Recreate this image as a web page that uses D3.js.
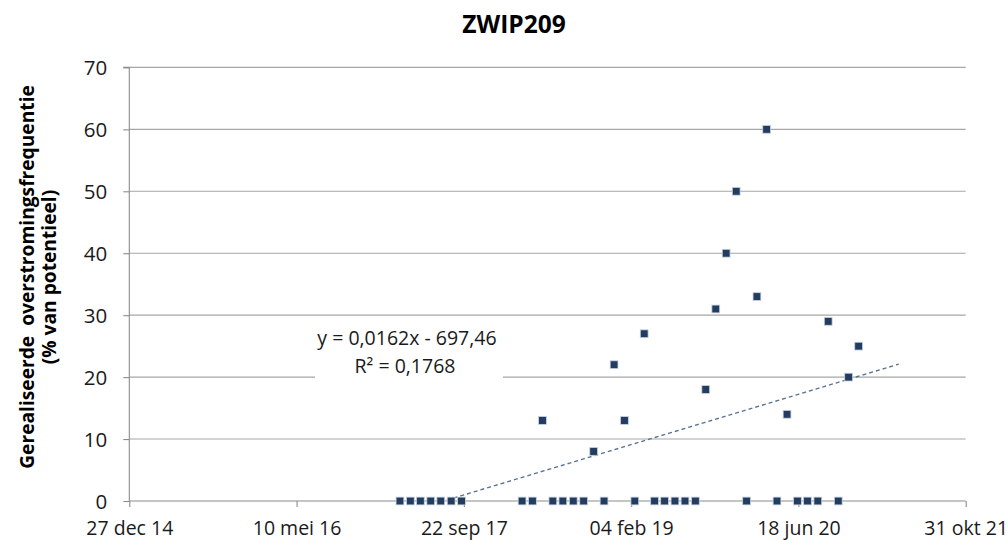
<!DOCTYPE html>
<html>
<head>
<meta charset="utf-8">
<script src="https://cdn.jsdelivr.net/npm/d3@7"></script>
<style>
  html, body { margin: 0; padding: 0; background: #fff; }
  svg { display: block; font-family: "Open Sans", "Noto Sans", sans-serif; }
</style>
</head>
<body>
<svg id="chart" width="1007" height="540"></svg>
<script>
// ---------- data ----------
const title = "ZWIP209";
const yTitleLines = ["Gerealiseerde  overstromingsfrequentie", "(% van potentieel)"];
const trendLabel = ["y = 0,0162x - 697,46", "R\u00B2 = 0,1768"];

const dates = [
  "2017-03-15","2017-04-15","2017-05-15","2017-06-15","2017-07-15","2017-08-15","2017-09-15",
  "2018-03-15","2018-04-15","2018-05-15","2018-06-15","2018-07-15","2018-08-15","2018-09-15",
  "2018-10-15","2018-11-15","2018-12-15","2019-01-15","2019-02-15","2019-03-15","2019-04-15",
  "2019-05-15","2019-06-15","2019-07-15","2019-08-15","2019-09-15","2019-10-15","2019-11-15",
  "2019-12-15","2020-01-15","2020-02-15","2020-03-15","2020-04-15","2020-05-15","2020-06-15",
  "2020-07-15","2020-08-15","2020-09-15","2020-10-15","2020-11-15","2020-12-15"
];
const values = [
  0,0,0,0,0,0,0,
  0,0,13,0,0,0,0,
  8,0,22,13,0,27,0,
  0,0,0,0,18,31,40,
  50,0,33,60,0,14,0,
  0,0,29,0,20,25
];

const xTickDates = ["2014-12-27","2016-05-10","2017-09-22","2019-02-04","2020-06-18","2021-10-31"];
const xTickLabels = ["27 dec 14","10 mei 16","22 sep 17","04 feb 19","18 jun 20","31 okt 21"];
const yTicks = [0,10,20,30,40,50,60,70];
const trendForwardDays = 120;

// ---------- layout ----------
const plot = { left: 129.3, right: 965.7, top: 67.4, bottom: 501 };
const parse = d3.utcParse("%Y-%m-%d");
const svg = d3.select("#chart");

const x = d3.scaleUtc()
  .domain([parse(xTickDates[0]), parse(xTickDates[xTickDates.length - 1])])
  .range([plot.left, plot.right]);
const y = d3.scaleLinear().domain([0, 70]).range([plot.bottom, plot.top]);

const data = dates.map((d, i) => ({ date: parse(d), value: values[i] }));

// gridlines
svg.append("g")
  .selectAll("line")
  .data(yTicks.filter(t => t > 0))
  .join("line")
  .attr("x1", plot.left).attr("x2", plot.right)
  .attr("y1", d => y(d)).attr("y2", d => y(d))
  .attr("stroke", "#a6a6a6").attr("stroke-width", 1.1);

// y axis
const yAxis = d3.axisLeft(y).tickValues(yTicks).tickSize(6).tickPadding(16).tickFormat(d3.format("d"));
const gy = svg.append("g").attr("transform", `translate(${plot.left},0)`).call(yAxis);
gy.select(".domain").attr("stroke", "#8c8c8c").attr("stroke-width", 1.1).attr("d", `M-6,${plot.top}H0V${plot.bottom}`);
gy.selectAll(".tick line").attr("stroke", "#8c8c8c").attr("stroke-width", 1.1);
gy.selectAll(".tick text")
  .attr("font-family", "Open Sans").attr("font-size", 20.5).attr("fill", "#1a1a1a")
  .attr("dy", "0.36em");

// x axis
const xAxis = d3.axisBottom(x)
  .tickValues(xTickDates.map(parse))
  .tickSize(6).tickPadding(14)
  .tickFormat((d, i) => xTickLabels[i]);
const gx = svg.append("g").attr("transform", `translate(0,${plot.bottom})`).call(xAxis);
gx.select(".domain").attr("stroke", "#8c8c8c").attr("stroke-width", 1.1).attr("d", `M${plot.left},0H${plot.right}`);
gx.selectAll(".tick line").attr("stroke", "#8c8c8c").attr("stroke-width", 1.1);
gx.selectAll(".tick text")
  .attr("font-family", "Open Sans").attr("font-size", 19.5).attr("fill", "#1a1a1a")
  .attr("dy", "0.71em");

// trendline (least squares on Excel serial days, as Excel does)
const excelEpoch = Date.UTC(1899, 11, 30);
const serial = d => (d.getTime() - excelEpoch) / 86400000;
const xs = data.map(d => serial(d.date)), ys = data.map(d => d.value);
const mx = d3.mean(xs), my = d3.mean(ys);
const slope = d3.sum(xs.map((v, i) => (v - mx) * (ys[i] - my))) / d3.sum(xs.map(v => (v - mx) * (v - mx)));
const intercept = my - slope * mx;
const sMin = d3.min(xs), sMax = d3.max(xs) + trendForwardDays;
const fromSerial = s => new Date(excelEpoch + s * 86400000);
const trendPts = d3.range(0, 101).map(k => {
  const s = sMin + (sMax - sMin) * k / 100;
  return { date: fromSerial(s), value: slope * s + intercept };
});

svg.append("clipPath").attr("id", "plotclip")
  .append("rect")
  .attr("x", plot.left).attr("y", plot.top)
  .attr("width", plot.right - plot.left).attr("height", plot.bottom - plot.top);

svg.append("path")
  .datum(trendPts)
  .attr("clip-path", "url(#plotclip)")
  .attr("fill", "none")
  .attr("stroke", "#5a7293")
  .attr("stroke-width", 1.4)
  .attr("stroke-dasharray", "4,3")
  .attr("d", d3.line().x(d => x(d.date)).y(d => y(d.value)));

// markers
const ms = 7.8;
svg.append("g")
  .selectAll("rect")
  .data(data)
  .join("rect")
  .attr("x", d => x(d.date) - ms / 2)
  .attr("y", d => y(d.value) - ms / 2)
  .attr("width", ms).attr("height", ms)
  .attr("fill", "#223d60")
  .attr("stroke", "#c9d3e0").attr("stroke-width", 0.8);

// trendline label
const lab = svg.append("g");
lab.append("rect")
  .attr("x", 315).attr("y", 321).attr("width", 188).attr("height", 60)
  .attr("fill", "#fff");
lab.selectAll("text")
  .data(trendLabel)
  .join("text")
  .attr("x", (d, i) => i === 0 ? 407 : 405)
  .attr("y", (d, i) => 345 + i * 28)
  .attr("text-anchor", "middle")
  .attr("font-family", "Open Sans").attr("font-size", 19.5).attr("fill", "#1a1a1a")
  .text(d => d);

// title
svg.append("text")
  .attr("x", 514).attr("y", 33)
  .attr("text-anchor", "middle")
  .attr("font-family", "Open Sans").attr("font-weight", 700).attr("font-size", 24.5)
  .attr("fill", "#000")
  .text(title);

// y axis title
const yt = svg.append("g").attr("transform", "translate(0,277) rotate(-90)");
yt.selectAll("text")
  .data(yTitleLines)
  .join("text")
  .attr("x", 0)
  .attr("y", (d, i) => i === 0 ? 34 : 56)
  .attr("text-anchor", "middle")
  .attr("font-family", "Open Sans").attr("font-weight", 700).attr("font-size", 19.2)
  .attr("fill", "#000")
  .style("white-space", "pre")
  .text(d => d);
</script>
</body>
</html>
